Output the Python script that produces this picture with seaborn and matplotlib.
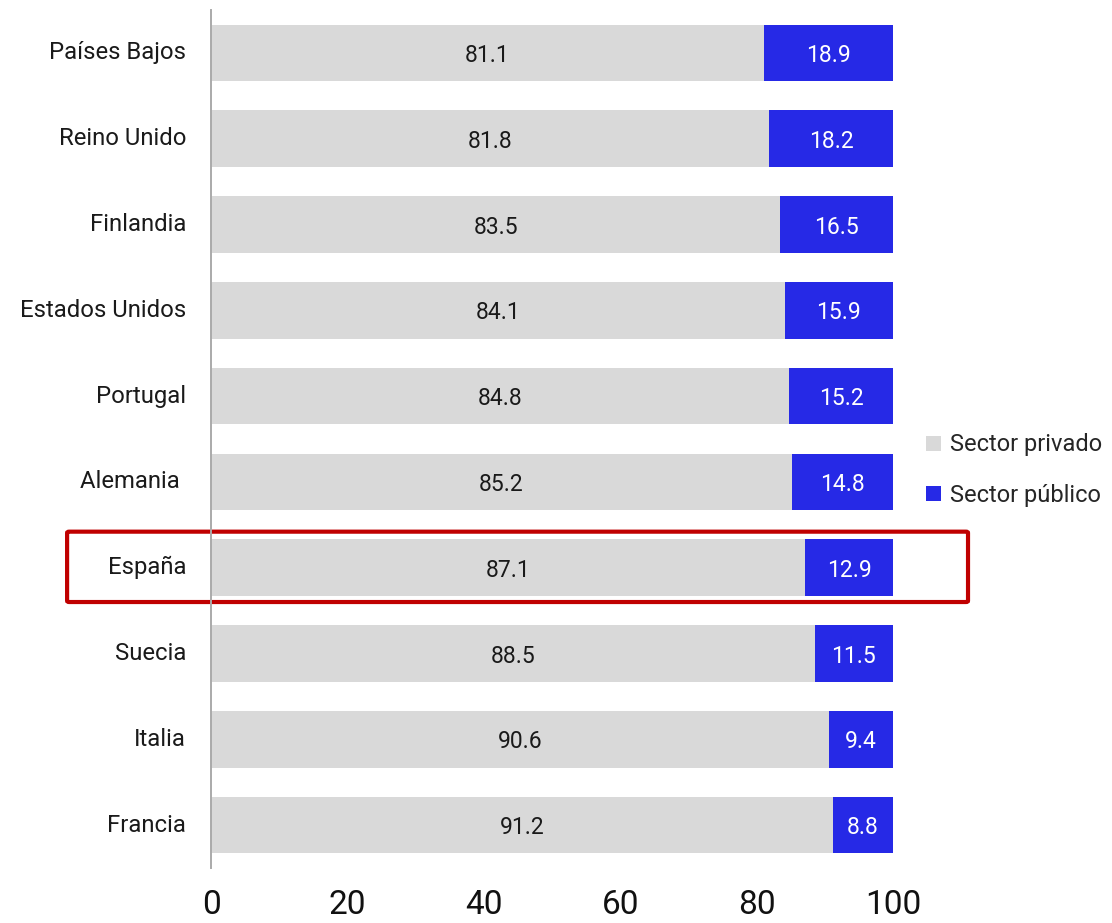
import matplotlib
matplotlib.use("Agg")
import matplotlib.pyplot as plt
import seaborn as sns
import pandas as pd
from matplotlib.patches import FancyBboxPatch, Patch

# data
countries = ["Países Bajos", "Reino Unido", "Finlandia", "Estados Unidos", "Portugal",
             "Alemania ", "España", "Suecia", "Italia", "Francia"]
privado = [81.1, 81.8, 83.5, 84.1, 84.8, 85.2, 87.1, 88.5, 90.6, 91.2]
publico = [18.9, 18.2, 16.5, 15.9, 15.2, 14.8, 12.9, 11.5, 9.4, 8.8]
x_ticks = [0, 20, 40, 60, 80, 100]
highlight = "España"

df = pd.DataFrame({"pais": countries, "privado": privado, "publico": publico})
df["total"] = df["privado"] + df["publico"]

GRAY = "#d9d9d9"
BLUE = "#2629e6"
RED = "#c00000"

sns.set_style("white")
plt.rcParams["font.family"] = ["Roboto", "DejaVu Sans"]

fig = plt.figure(figsize=(11.12, 9.23), dpi=100)
ax = fig.add_axes([211 / 1112, 1 - 868 / 923, 682 / 1112, 858 / 923])

# stacked: full bar in blue, private part drawn over it
sns.barplot(data=df, x="total", y="pais", color=BLUE, width=0.66, linewidth=0,
            saturation=1, ax=ax)
sns.barplot(data=df, x="privado", y="pais", color=GRAY, width=0.66, linewidth=0,
            saturation=1, ax=ax)

for i, row in df.iterrows():
    ax.text(row["privado"] / 2, i, f"{row['privado']:.1f}", ha="center",
            va="center_baseline", fontsize=16.5, color="#1a1a1a")
    ax.text(row["privado"] + row["publico"] / 2, i, f"{row['publico']:.1f}",
            ha="center", va="center_baseline", fontsize=16.5, color="white")

ax.set_xlim(0, 100)
ax.set_ylim(9.5, -0.5)
ax.set_xticks(x_ticks)
ax.set_xticklabels([str(t) for t in x_ticks], fontsize=24,
                   family=["Liberation Sans Narrow", "Roboto"], color="#111111")
ax.tick_params(axis="x", length=0, pad=15)
ax.set_yticks(range(len(countries)))
ax.set_yticklabels(countries, va="center")
ax.tick_params(axis="y", length=0, pad=18, labelsize=17.2, labelcolor="#1a1a1a")
ax.set_xlabel("")
ax.set_ylabel("")

for s in ["top", "right", "bottom"]:
    ax.spines[s].set_visible(False)
ax.spines["left"].set_color("#aaaaaa")
ax.spines["left"].set_linewidth(1.4)

# highlight box around España
hi = countries.index(highlight)
box = FancyBboxPatch((-21.1, hi - 0.42), 132.1, 0.82,
                     boxstyle="round,pad=0,rounding_size=0.3", fill=False,
                     edgecolor=RED, linewidth=3, clip_on=False,
                     mutation_aspect=0.05)
ax.add_patch(box)

handles = [Patch(facecolor=GRAY, edgecolor="none", label="Sector privado"),
           Patch(facecolor=BLUE, edgecolor="none", label="Sector público")]
fig.legend(handles=handles, loc="center left", bbox_to_anchor=(917 / 1112, 1 - 470 / 923),
           frameon=False, fontsize=17, handlelength=0.6, handleheight=0.6,
           handletextpad=0.4, labelspacing=1.15, borderaxespad=0)

fig.savefig("out.png", dpi=100)
